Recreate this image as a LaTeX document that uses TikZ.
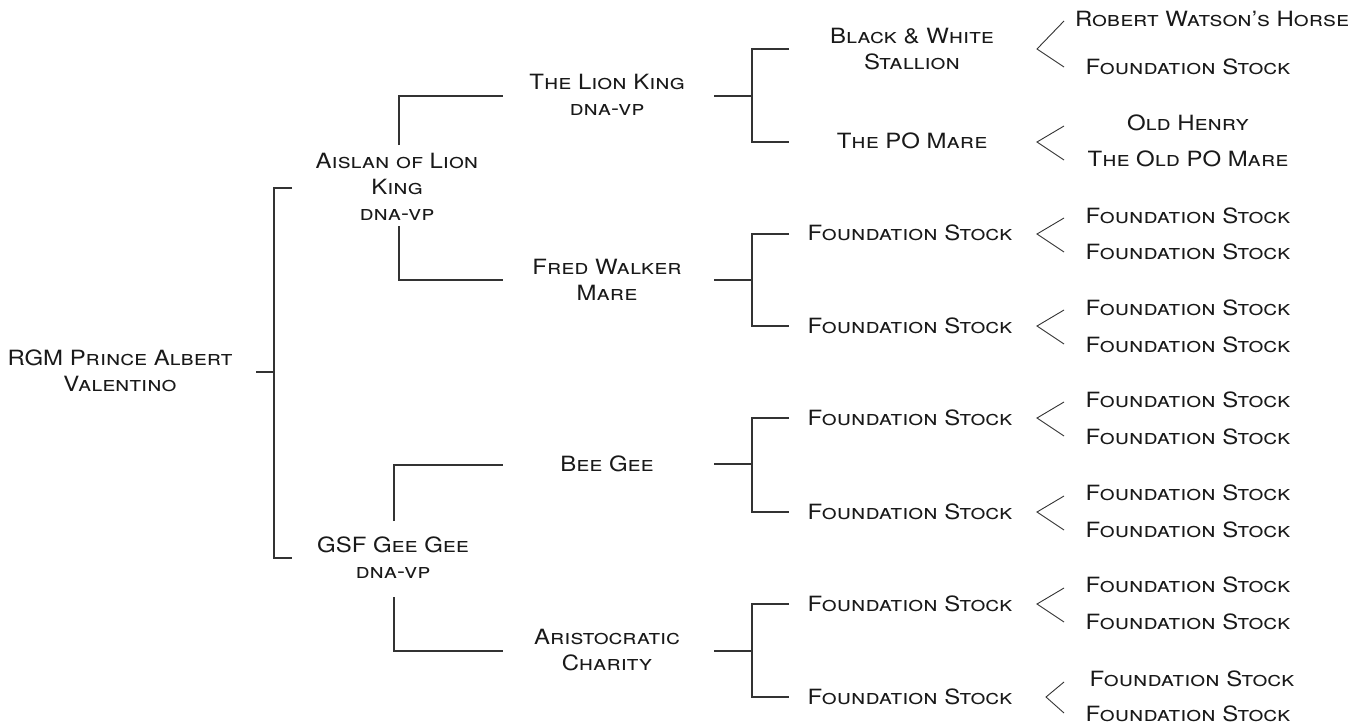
\documentclass[tikz,border=0pt]{standalone}
\usepackage{fontspec}
\setmainfont{TeX Gyre Heros}[FakeStretch=1.14]
\newcommand\lblfont{\fontsize{21}{26}\selectfont\scshape}
\begin{document}
\begin{tikzpicture}[x=1pt,y=-1pt,
  lbl/.style={font=\lblfont, align=center, inner sep=0pt, text=black!90},
  bk/.style={draw=black!80, line width=1.4pt},
  ang/.style={draw=black!80, line width=0.9pt}]
\useasboundingbox (0,0) rectangle (1354,726);

% level 0
\node[lbl] (r) at (120,371) {RGM Prince Albert\\Valentino};
% level 1
\node[lbl] (a) at (397,187) {Aislan of Lion\\King\\dna-vp};
\node[lbl] (g) at (393,558) {GSF Gee Gee\\dna-vp};
% level 2
\node[lbl] (lk) at (607,95) {The Lion King\\dna-vp};
\node[lbl] (fw) at (607,280) {Fred Walker\\Mare};
\node[lbl] (bg) at (607,464) {Bee Gee};
\node[lbl] (ac) at (607,650) {Aristocratic\\Charity};
% level 3
\node[lbl] (bw) at (912,49) {Black \& White\\Stallion};
\node[lbl] (po) at (912,141) {The PO Mare};
\node[lbl] (s1) at (910,233) {Foundation Stock};
\node[lbl] (s2) at (910,326) {Foundation Stock};
\node[lbl] (s3) at (910,418) {Foundation Stock};
\node[lbl] (s4) at (910,512) {Foundation Stock};
\node[lbl] (s5) at (910,604) {Foundation Stock};
\node[lbl] (s6) at (910,697) {Foundation Stock};
% level 4
\node[lbl] (t1) at (1212,19) {Robert Watson's Horse};
\node[lbl] (t2) at (1188,67) {Foundation Stock};
\node[lbl] (t3) at (1188,123) {Old Henry};
\node[lbl] (t4) at (1188,159) {The Old PO Mare};
\node[lbl] (t5) at (1188,216) {Foundation Stock};
\node[lbl] (t6) at (1188,252) {Foundation Stock};
\node[lbl] (t7) at (1188,308) {Foundation Stock};
\node[lbl] (t8) at (1188,345) {Foundation Stock};
\node[lbl] (t9) at (1188,400) {Foundation Stock};
\node[lbl] (t10) at (1188,437) {Foundation Stock};
\node[lbl] (t11) at (1188,493) {Foundation Stock};
\node[lbl] (t12) at (1188,530) {Foundation Stock};
\node[lbl] (t13) at (1188,585) {Foundation Stock};
\node[lbl] (t14) at (1188,622) {Foundation Stock};
\node[lbl] (t15) at (1192,679) {Foundation Stock};
\node[lbl] (t16) at (1188,714) {Foundation Stock};

% root bracket
\coordinate (r0) at (256,372); \coordinate (r1) at (274,372);
\coordinate (ra) at (274,188); \coordinate (rb) at (274,558);
\coordinate (ra1) at (292,188); \coordinate (rb1) at (292,558);
\draw[bk] (r0) -- (r1);
\draw[bk] (ra1) -- (ra) -- (rb) -- (rb1);

% level-1 elbows
\coordinate (a1) at (399,145); \coordinate (a2) at (399,96); \coordinate (a3) at (503,96);
\coordinate (a4) at (399,226); \coordinate (a5) at (399,280); \coordinate (a6) at (503,280);
\draw[bk] (a1) -- (a2) -- (a3);
\draw[bk] (a4) -- (a5) -- (a6);
\coordinate (g1) at (394,521); \coordinate (g2) at (394,465); \coordinate (g3) at (503,465);
\coordinate (g4) at (394,597); \coordinate (g5) at (394,651); \coordinate (g6) at (503,651);
\draw[bk] (g1) -- (g2) -- (g3);
\draw[bk] (g4) -- (g5) -- (g6);

% level-2 brackets
\foreach \n/\m/\t/\b in {lk/96/49/142, fw/280/234/326, bg/464/418/512, ac/651/604/697}{
  \coordinate (\n-s) at (714,\m); \coordinate (\n-j) at (752,\m);
  \coordinate (\n-t) at (752,\t); \coordinate (\n-b) at (752,\b);
  \coordinate (\n-tt) at (789,\t); \coordinate (\n-bb) at (789,\b);
  \draw[bk] (\n-s) -- (\n-j);
  \draw[bk] (\n-tt) -- (\n-t) -- (\n-b) -- (\n-bb);
}

% angle marks
\foreach \n/\tx/\ty/\px/\py/\bx/\by in {
  bw/1064/21/1037/49/1064/67,
  po/1064/126/1037/142/1064/160,
  s1/1064/218/1037/234/1064/252,
  s2/1064/310/1037/326/1064/344,
  s3/1064/402/1037/418/1064/436,
  s4/1064/496/1037/512/1064/530,
  s5/1064/588/1037/604/1064/622,
  s6/1064/682/1046/697/1064/713}{
  \coordinate (\n-u) at (\tx,\ty); \coordinate (\n-p) at (\px,\py); \coordinate (\n-d) at (\bx,\by);
  \draw[ang] (\n-u) -- (\n-p) -- (\n-d);
}
\end{tikzpicture}
\end{document}
